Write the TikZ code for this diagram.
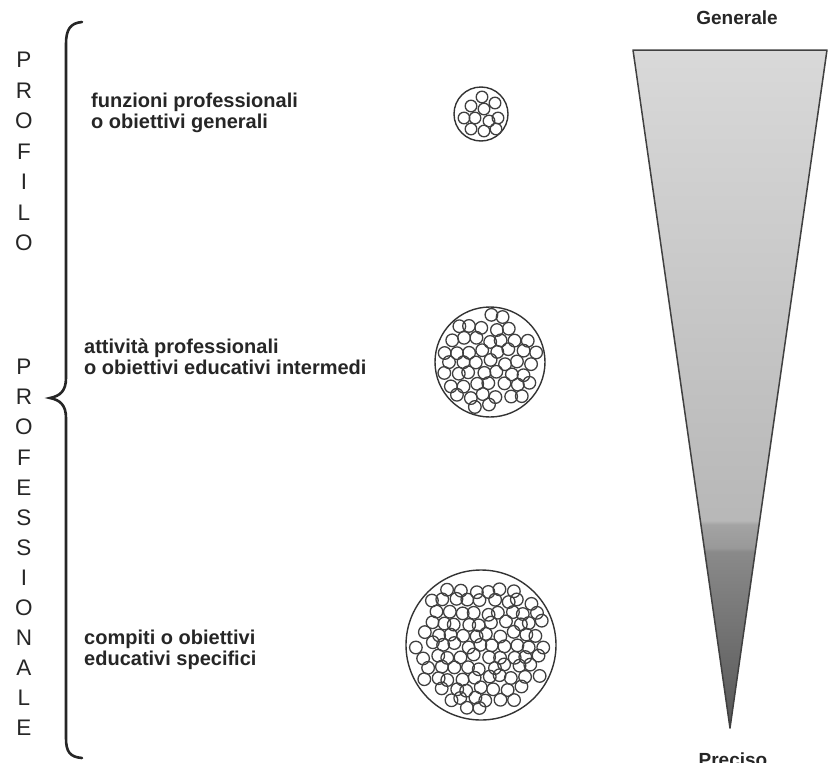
\documentclass[tikz,border=0pt]{standalone}
\usepackage{fontspec}
\setmainfont{Liberation Sans}
\usetikzlibrary{positioning}

% light at the top, dark towards the tip
\pgfdeclareverticalshading{cone}{100bp}{color(0bp)=(black!66); color(25bp)=(black!66); color(38bp)=(black!46); color(38.3bp)=(black!40); color(40bp)=(black!36); color(40.3bp)=(black!28); color(75bp)=(black!15); color(100bp)=(black!15)}

\begin{document}
\begin{tikzpicture}[
        x=1pt, y=-1pt,
        every node/.style={text=black!85, inner sep=0pt},
        letter/.style={font=\fontsize{22.5}{22.5}\selectfont},
        levelnote/.style={font=\fontsize{20}{21}\selectfont\bfseries, align=left, anchor=west},
        pole/.style={font=\fontsize{19}{19}\selectfont\bfseries},
        cluster/.style={circle, draw=black!80, line width=1.4pt, inner sep=0pt},
        dot/.style={draw=black!75, line width=1.3pt},
        brace/.style={draw=black!85, line width=2.6pt, line cap=round},
        cone edge/.style={draw=black!75, line width=1.5pt, line join=round}
    ]
        \useasboundingbox (0,0) rectangle (828,763);
        % Vertical title
        \foreach \ch [count=\i from 0] in {P,R,O,F,I,L,O}
            \node[letter] (pa\i) at (24, 60+30.5*\i) {\ch};
        \foreach \ch [count=\i from 0] in {P,R,O,F,E,S,S,I,O,N,A,L,E}
            \node[letter] (pb\i) at (24, 367+30.1*\i) {\ch};
        % Brace
        \draw[brace] (82,22) .. controls (70,23) and (66,30) .. (66,44) -- (66,378)
            .. controls (66,391) and (60,396) .. (50,398)
            .. controls (60,400) and (66,405) .. (66,418) -- (66,738)
            .. controls (66,752) and (70,757) .. (82,758);
        % Levels
        \node[levelnote] (lev1) at (91,113) {funzioni professionali\\o obiettivi generali};
        \node[levelnote] (lev2) at (84,357) {attività professionali\\o obiettivi educativi intermedi};
        \node[levelnote] (lev3) at (84,650) {compiti o obiettivi\\educativi specifici};
        % Clusters
        \node[cluster, minimum size=54pt] (small) at (481,114) {};
        \node[cluster, minimum size=110pt] (mid) at (490,362) {};
        \node[cluster, minimum size=150pt] (big) at (481,645) {};
        \foreach \dx/\dy in {1/-17, -10/-8, 14/-11, 3/-5, -17/4, -6/4, 8/7, 17/4, -10/15, 3/17, 15/15}
            \draw[dot] ([shift={(\dx,\dy)}]small.center) circle[radius=5.8pt];
        \pgfmathsetseed{7}
        \foreach \gx in {-5,...,5}
            \foreach \gy in {-5,...,5} {
                \pgfmathsetmacro{\px}{13*\gx + 6.5*mod(abs(\gy),2) + 2.5*rand}
                \pgfmathsetmacro{\py}{11.2*\gy + 2.5*rand}
                \pgfmathtruncatemacro{\inside}{veclen(\px,\py) < 47.5 ? 1 : 0}
                \ifnum\inside=1 \draw[dot] ([shift={(\px,\py)}]mid.center) circle[radius=6.3pt]; \fi
            }
        \foreach \gx in {-7,...,7}
            \foreach \gy in {-7,...,7} {
                \pgfmathsetmacro{\px}{12.6*\gx + 6.3*mod(abs(\gy),2) + 2.8*rand}
                \pgfmathsetmacro{\py}{10.9*\gy + 2.8*rand}
                \pgfmathtruncatemacro{\inside}{veclen(\px,\py) < 67.5 ? 1 : 0}
                \ifnum\inside=1 \draw[dot] ([shift={(\px,\py)}]big.center) circle[radius=6.3pt]; \fi
            }
        % Cone from general to precise
        \coordinate (tl) at (633,50);
        \coordinate (tr) at (827,50);
        \coordinate (tip) at (730,728);
        \shade[shading=cone] (tl) -- (tr) -- (tip) -- cycle;
        \draw[cone edge] (tl) -- (tr) -- (tip) -- cycle;
        \node[pole] (gen) at (737,18) {Generale};
        \node[pole, anchor=north] (pre) at (733,753) {Preciso};
    \end{tikzpicture}
\end{document}
